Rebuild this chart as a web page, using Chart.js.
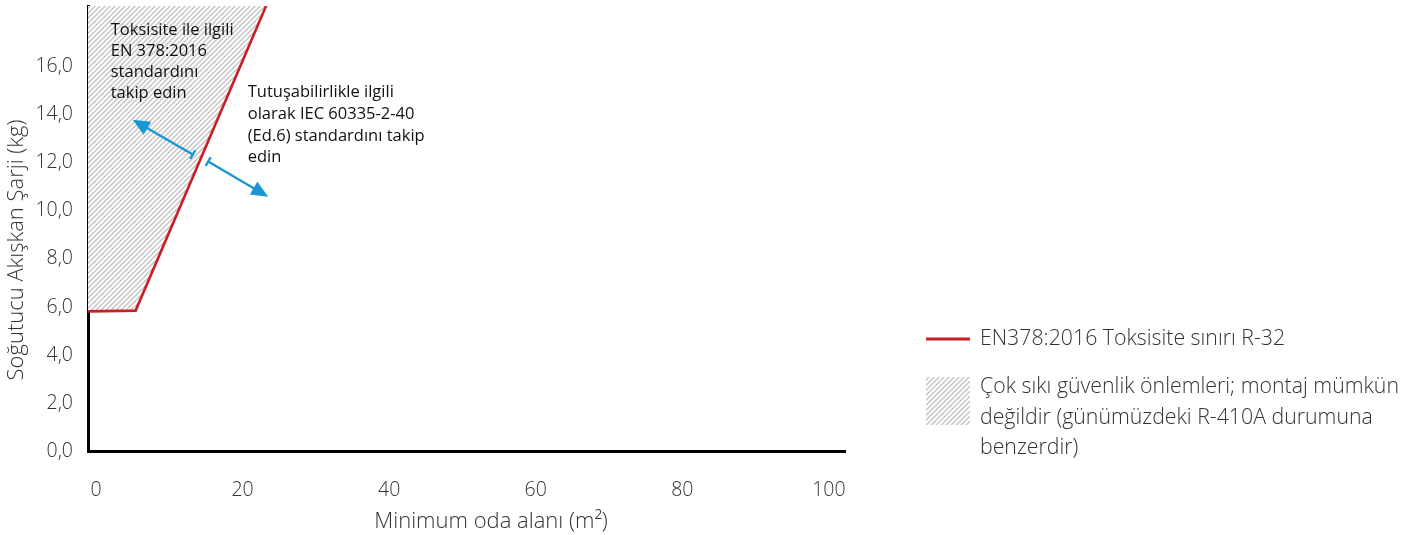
<!DOCTYPE html>
<html>
<head>
<meta charset="utf-8">
<script src="https://cdn.jsdelivr.net/npm/chart.js@4/dist/chart.umd.min.js"></script>
<style>
  html, body { margin: 0; padding: 0; background: #fff; }
</style>
</head>
<body>
<canvas id="chart" width="1428" height="535"></canvas>
<script>
// EN378 toxicity limit for R-32 (room area m2 -> max charge kg)
const roomArea = [-1.1, 5.4, 23.2];
const chargeLimit = [5.82, 5.85, 18.5];
const xTickValues = [0, 20, 40, 60, 80, 100];
const yTickValues = [0, 2, 4, 6, 8, 10, 12, 14, 16];

const xTitle = 'Minimum oda alanı (m²)';
const yTitle = 'Soğutucu Akışkan Şarji (kg)';
const legendLine = 'EN378:2016 Toksisite sınırı R-32';
const legendHatch = ['Çok sıkı güvenlik önlemleri; montaj mümkün', 'değildir (günümüzdeki R-410A durumuna', 'benzerdir)'];
const noteLeft = ['Toksisite ile ilgili', 'EN 378:2016', 'standardını', 'takip edin'];
const noteRight = ['Tutuşabilirlikle ilgili', 'olarak IEC 60335-2-40', '(Ed.6) standardını takip', 'edin'];

const RED = '#cc1e25';
const BLUE = '#1a96d4';
const TEXT = '#333333';
const TITLE_FONT = '300 22px "Open Sans"';
const LEGEND_FONT = '300 21.3px "Open Sans"';
const NOTE_FONT = '16.5px "Open Sans"';

// diagonal "/" stripes, painted pixel by pixel
function makeHatch(ctx) {
    const c = document.createElement('canvas');
    c.width = 5; c.height = 5;
    const g = c.getContext('2d');
    const shades = ['#c6c6c6', '#d6d6d6', '#ffffff', '#ffffff', '#ebebeb'];
    for (let i = 0; i < 5; i++) {
        for (let j = 0; j < 5; j++) {
            g.fillStyle = shades[(i + j) % 5];
            g.fillRect(i, j, 1, 1);
        }
    }
    return ctx.createPattern(c, 'repeat');
}

const ctx = document.getElementById('chart').getContext('2d');
const hatch = makeHatch(ctx);

function drawArrow(c, x0, y0, x1, y1) {
    const a = Math.atan2(y1 - y0, x1 - x0);
    const len = Math.hypot(x1 - x0, y1 - y0);
    c.save();
    c.translate(x0, y0);
    c.rotate(a);
    c.strokeStyle = BLUE;
    c.fillStyle = BLUE;
    c.lineWidth = 2.4;
    c.beginPath();
    c.moveTo(0, 0); c.lineTo(len - 12, 0);
    c.moveTo(0, -5); c.lineTo(0, 5);
    c.stroke();
    c.beginPath();
    c.moveTo(len, 0);
    c.lineTo(len - 17, -7.5);
    c.lineTo(len - 17, 7.5);
    c.closePath();
    c.fill();
    c.restore();
}

const notesPlugin = {
    id: 'notes',
    afterDraw(chart) {
        const c = chart.ctx;
        const xs = chart.scales.x, ys = chart.scales.y;
        c.save();
        c.fillStyle = '#111';
        c.font = NOTE_FONT;
        c.textBaseline = 'middle';
        c.textAlign = 'left';
        noteLeft.forEach((t, i) => c.fillText(t, xs.getPixelForValue(2.0), ys.getPixelForValue(17.5) + i * 21));
        noteRight.forEach((t, i) => c.fillText(t, xs.getPixelForValue(20.7), ys.getPixelForValue(14.9) + i * 21.7));
        drawArrow(c, xs.getPixelForValue(13.2), ys.getPixelForValue(12.33), xs.getPixelForValue(5.0), ys.getPixelForValue(13.78));
        drawArrow(c, xs.getPixelForValue(15.3), ys.getPixelForValue(12.04), xs.getPixelForValue(23.5), ys.getPixelForValue(10.58));

        // axis titles
        c.fillStyle = TEXT;
        c.font = TITLE_FONT;
        c.textAlign = 'center';
        c.fillText(xTitle, 491, 522);
        c.save();
        c.translate(17, 250);
        c.rotate(-Math.PI / 2);
        c.fillText(yTitle, 0, 0);
        c.restore();

        // legend
        c.strokeStyle = RED;
        c.lineWidth = 3;
        c.beginPath();
        c.moveTo(926, 339); c.lineTo(970, 339);
        c.stroke();
        c.fillStyle = hatch;
        c.fillRect(926, 377, 44, 48);
        c.fillStyle = TEXT;
        c.font = LEGEND_FONT;
        c.textAlign = 'left';
        c.fillText(legendLine, 980, 339);
        legendHatch.forEach((t, i) => c.fillText(t, 980, 387 + i * 30.5));
        c.restore();
    }
};

new Chart(ctx, {
    type: 'line',
    data: {
        datasets: [{
            label: legendLine,
            data: roomArea.map((x, i) => ({ x: x, y: chargeLimit[i] })),
            borderColor: RED,
            borderWidth: 2.6,
            backgroundColor: hatch,
            fill: 'end',
            pointRadius: 0,
            tension: 0
        }]
    },
    options: {
        responsive: false,
        animation: false,
        devicePixelRatio: 1,
        layout: { padding: { top: 6, right: 583, left: 0, bottom: 0 } },
        plugins: {
            legend: { display: false },
            tooltip: { enabled: false }
        },
        scales: {
            x: {
                type: 'linear',
                z: 1,
                min: -1.1,
                max: 102.2,
                afterBuildTicks: s => { s.ticks = xTickValues.map(v => ({ value: v })); },
                afterFit: s => { s.height = 83.5; s.paddingLeft = 0; s.paddingRight = 0; },
                grid: { display: false, drawTicks: false },
                border: { display: true, color: '#000', width: 3 },
                ticks: { color: TEXT, font: { family: 'Open Sans', size: 19.5, weight: 300 }, padding: 27, maxRotation: 0 }
            },
            y: {
                type: 'linear',
                z: 1,
                min: 0,
                max: 18.5,
                afterBuildTicks: s => { s.ticks = yTickValues.map(v => ({ value: v })); },
                afterFit: s => { s.width = 88; s.paddingTop = 0; s.paddingBottom = 0; },
                grid: { display: false, drawTicks: false },
                border: { display: true, color: '#000', width: 3 },
                ticks: {
                    color: TEXT,
                    font: { family: 'Open Sans', size: 19.5, weight: 300 },
                    padding: 15,
                    callback: v => v.toFixed(1).replace('.', ',')
                }
            }
        }
    },
    plugins: [notesPlugin]
});
</script>
</body>
</html>
